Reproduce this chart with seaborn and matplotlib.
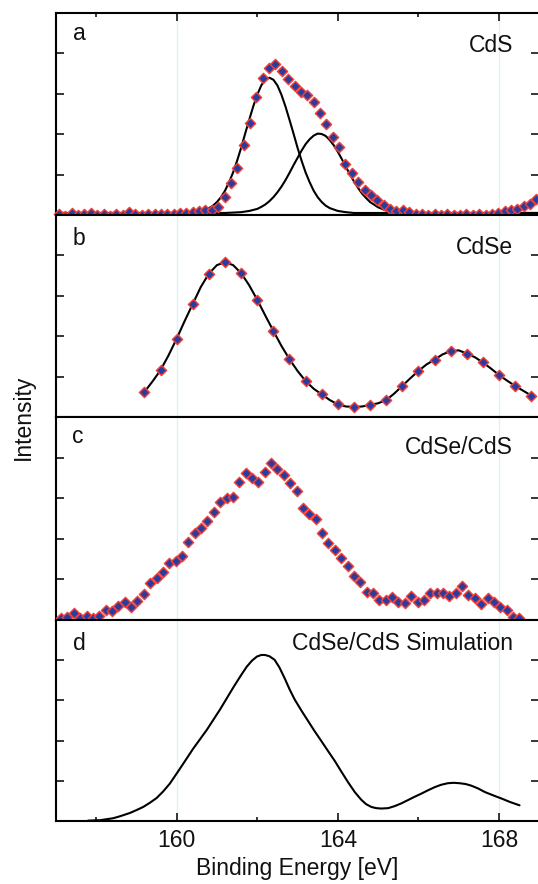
import numpy as np
import matplotlib
matplotlib.use("Agg")
import matplotlib.pyplot as plt
import seaborn as sns

sns.set_theme(style="ticks")
plt.rcParams["font.family"] = ["Liberation Sans", "DejaVu Sans"]
plt.rcParams["xtick.direction"] = "in"
plt.rcParams["ytick.direction"] = "in"

# ---------------- data ----------------
# (a) CdS: measured S 2p region (scan start / step in eV) and two fitted components
cds_start, cds_step = 157.08, 0.158
cds_intensity = [
    0.03, -0.03, 0.05, 0.00, 0.03, 0.05, 0.00, 0.03, -0.03, 0.03,
    0.00, 0.07, 0.03, 0.00, 0.03, 0.03, 0.03, 0.03, 0.03, 0.05,
    0.05, 0.07, 0.11, 0.12, 0.13, 0.20, 0.44, 0.78, 1.15, 1.72,
    2.27, 2.92, 3.39, 3.64, 3.74, 3.56, 3.37, 3.18, 3.04, 2.96,
    2.79, 2.52, 2.24, 1.93, 1.68, 1.27, 1.04, 0.81, 0.61, 0.49,
    0.36, 0.24, 0.16, 0.10, 0.13, 0.07, 0.03, 0.03, -0.01, 0.03,
    -0.01, 0.03, 0.01, -0.01, 0.03, -0.01, 0.03, -0.01, 0.03, 0.05,
    0.10, 0.13, 0.16, 0.21, 0.28, 0.40,
]
cds_fit1_energy = [157.0, 160.2, 160.4, 160.6, 160.8, 160.9, 161.0, 161.1, 161.2, 161.3,
                   161.4, 161.5, 161.6, 161.7, 161.8, 161.9, 162.0, 162.1, 162.2, 162.3,
                   162.4, 162.5, 162.6, 162.7, 162.8, 162.9, 163.0, 163.1, 163.2, 163.3,
                   163.4, 163.5, 163.6, 163.7, 163.8, 164.0, 164.2, 164.4, 169.0]
cds_fit1 = [0.05, 0.05, 0.07, 0.10, 0.17, 0.23, 0.32, 0.44, 0.60, 0.81,
            1.05, 1.34, 1.66, 2.01, 2.35, 2.68, 2.97, 3.20, 3.34, 3.39,
            3.34, 3.20, 2.97, 2.68, 2.35, 2.01, 1.66, 1.34, 1.05, 0.81,
            0.60, 0.44, 0.32, 0.23, 0.17, 0.10, 0.07, 0.05, 0.05]
cds_fit2_energy = [157.0, 161.2, 161.4, 161.6, 161.8, 162.0, 162.1, 162.2, 162.3, 162.4,
                   162.5, 162.6, 162.7, 162.8, 162.9, 163.0, 163.1, 163.2, 163.3, 163.4,
                   163.5, 163.6, 163.7, 163.8, 163.9, 164.0, 164.1, 164.2, 164.3, 164.4,
                   164.5, 164.6, 164.7, 164.8, 165.0, 165.2, 165.4, 165.6, 165.8, 169.0]
cds_fit2 = [0.05, 0.05, 0.06, 0.07, 0.10, 0.15, 0.20, 0.26, 0.34, 0.44,
            0.56, 0.70, 0.86, 1.04, 1.23, 1.41, 1.59, 1.75, 1.87, 1.96,
            2.01, 2.00, 1.95, 1.85, 1.72, 1.56, 1.38, 1.19, 1.00, 0.83,
            0.67, 0.53, 0.42, 0.32, 0.19, 0.11, 0.08, 0.06, 0.05, 0.05]

# (b) CdSe: measured points and fitted envelope
cdse_energy = [159.2, 159.6, 160.0, 160.4, 160.8, 161.2, 161.6, 162.0, 162.4, 162.8,
               163.2, 163.6, 164.0, 164.4, 164.8, 165.2, 165.6, 166.0, 166.4, 166.8,
               167.2, 167.6, 168.0, 168.4, 168.8]
cdse_intensity = [0.62, 1.16, 1.94, 2.80, 3.55, 3.83, 3.56, 2.90, 2.13, 1.43,
                  0.89, 0.56, 0.31, 0.25, 0.30, 0.42, 0.77, 1.14, 1.42, 1.63,
                  1.57, 1.35, 1.04, 0.77, 0.53]
cdse_fit_energy = [159.2, 159.4, 159.6, 159.8, 160.0, 160.2, 160.4, 160.6, 160.8, 161.0,
                   161.2, 161.4, 161.6, 161.8, 162.0, 162.2, 162.4, 162.6, 162.8, 163.0,
                   163.2, 163.4, 163.6, 163.8, 164.0, 164.2, 164.4, 164.6, 164.8, 165.0,
                   165.2, 165.4, 165.6, 165.8, 166.0, 166.2, 166.4, 166.6, 166.8, 167.0,
                   167.2, 167.4, 167.6, 167.8, 168.0, 168.2, 168.4, 168.6, 168.8]
cdse_fit = [0.62, 0.88, 1.16, 1.53, 1.94, 2.38, 2.80, 3.22, 3.55, 3.76,
            3.83, 3.76, 3.56, 3.26, 2.90, 2.51, 2.13, 1.76, 1.43, 1.14,
            0.89, 0.70, 0.56, 0.42, 0.31, 0.26, 0.25, 0.26, 0.30, 0.34,
            0.42, 0.58, 0.77, 0.96, 1.14, 1.30, 1.42, 1.55, 1.63, 1.65,
            1.57, 1.48, 1.35, 1.20, 1.04, 0.90, 0.77, 0.65, 0.53]

# (c) CdSe/CdS core/shell: measured points
core_start, core_step = 157.13, 0.158
core_intensity = [
    0.04, 0.08, 0.17, 0.04, 0.10, 0.04, 0.10, 0.25, 0.23, 0.35,
    0.44, 0.31, 0.48, 0.63, 0.90, 1.03, 1.17, 1.41, 1.46, 1.58,
    1.91, 2.14, 2.27, 2.44, 2.67, 2.91, 3.00, 3.04, 3.39, 3.61,
    3.49, 3.41, 3.65, 3.86, 3.71, 3.57, 3.38, 3.18, 2.75, 2.61,
    2.50, 2.15, 1.89, 1.72, 1.52, 1.33, 1.08, 0.94, 0.70, 0.66,
    0.49, 0.49, 0.56, 0.45, 0.41, 0.60, 0.44, 0.49, 0.67, 0.66,
    0.66, 0.59, 0.67, 0.84, 0.62, 0.53, 0.39, 0.53, 0.45, 0.33,
    0.25, 0.07, 0.04,
]

# (d) simulated CdSe/CdS spectrum
sim_energy = [157.80, 158.10, 158.43, 158.60, 158.84, 159.00, 159.17, 159.33, 159.50, 159.66,
              159.83, 160.08, 160.41, 160.75, 161.08, 161.41, 161.60, 161.74, 161.87, 161.99,
              162.10, 162.19, 162.30, 162.43, 162.55, 162.68, 162.80, 162.93, 163.10, 163.26,
              163.42, 163.59, 163.75, 163.92, 164.08, 164.25, 164.42, 164.58, 164.70, 164.83,
              164.95, 165.08, 165.25, 165.41, 165.58, 165.74, 165.90, 166.07, 166.23, 166.40,
              166.56, 166.73, 166.88, 167.02, 167.17, 167.31, 167.48, 167.65, 167.85, 168.06,
              168.28, 168.51]
sim_intensity = [0.01, 0.02, 0.07, 0.12, 0.20, 0.27, 0.35, 0.45, 0.57, 0.73,
                 0.93, 1.30, 1.80, 2.27, 2.78, 3.33, 3.63, 3.84, 3.99, 4.09,
                 4.13, 4.13, 4.10, 4.01, 3.82, 3.55, 3.28, 3.02, 2.74, 2.49,
                 2.24, 1.99, 1.75, 1.50, 1.24, 0.97, 0.72, 0.53, 0.42, 0.35,
                 0.32, 0.31, 0.32, 0.37, 0.44, 0.52, 0.60, 0.68, 0.76, 0.84,
                 0.90, 0.94, 0.95, 0.94, 0.92, 0.88, 0.81, 0.72, 0.64, 0.56,
                 0.47, 0.39]

panel_letters = ["a", "b", "c", "d"]
panel_names = ["CdS", "CdSe", "CdSe/CdS", "CdSe/CdS Simulation"]

# ---------------- layout (pixel geometry) ----------------
W, H = 538, 884
FS = 16.5
fig = plt.figure(figsize=(W / 100, H / 100), dpi=100)
left_px, right_px = 55.8, 539.3
bounds = [(12.5, 215), (215, 417), (417, 620), (620, 821)]
axes = []
for top, bot in bounds:
    ax = fig.add_axes([left_px / W, 1 - bot / H, (right_px - left_px) / W, (bot - top) / H])
    axes.append(ax)

def fx(px):
    return px / W

def fy(py):
    return 1 - py / H

BLUE = "#2c3c9e"
RED = "#f0403a"

def points(ax, x, y):
    sns.scatterplot(x=x, y=y, ax=ax, marker="D", s=27, color=BLUE,
                    edgecolor=RED, linewidth=1.05, clip_on=False, zorder=4, legend=False)

def curve(ax, x, y):
    sns.lineplot(x=x, y=y, ax=ax, color="black", linewidth=1.5, sort=False,
                 estimator=None, zorder=3, legend=False)

cds_energy = cds_start + cds_step * np.arange(len(cds_intensity))
core_energy = core_start + core_step * np.arange(len(core_intensity))

curve(axes[0], cds_fit1_energy, cds_fit1)
curve(axes[0], cds_fit2_energy, cds_fit2)
points(axes[0], cds_energy, cds_intensity)

curve(axes[1], cdse_fit_energy, cdse_fit)
points(axes[1], cdse_energy, cdse_intensity)

points(axes[2], core_energy, core_intensity)

curve(axes[3], sim_energy, sim_intensity)

for i, ax in enumerate(axes):
    ax.set_xlim(157, 169)
    ax.set_ylim(0, 5)
    ax.set_xlabel("")
    ax.set_ylabel("")
    for s in ax.spines.values():
        s.set_visible(True)
        s.set_linewidth(1.5)
        s.set_color("black")
    for e in (160, 168):
        ax.axvline(e, color="#dcf2f7", linewidth=1.0, zorder=0)
    ax.set_yticks([1, 2, 3, 4])
    ax.set_yticklabels([])
    ax.tick_params(axis="y", which="major", left=True, right=True, length=5.8,
                   width=1.1, direction="in", color="black")
    ax.set_xticks([160, 164, 168])
    ax.set_xticks([158, 162, 166], minor=True)
    ax.tick_params(axis="x", which="major", length=5.8, width=1.1, direction="in", color="black")
    ax.tick_params(axis="x", which="minor", length=3.0, width=1.1, direction="in", color="black")
    ax.tick_params(axis="x", which="both", top=(i == 0), bottom=(i == 3),
                   labeltop=False, labelbottom=(i == 3))

axes[3].tick_params(axis="x", which="major", labelsize=FS, pad=5.5, labelcolor="#111111")
axes[3].set_xticklabels(["160", "164", "168"])
axes[3].set_xlabel("Binding Energy [eV]", fontsize=FS, labelpad=4, color="#111111")

fig.text(fx(23), fy(417), "Intensity", rotation=90, ha="center", va="center",
         fontsize=FS, color="#111111")

letter_pos = [(72.7, 40), (72.7, 245), (72.0, 442.7), (72.7, 650)]
name_pos = [(513, 52), (513, 254), (513, 454.5), (513, 649.7)]
for (lx, ly), (nx, ny), letter, name in zip(letter_pos, name_pos, panel_letters, panel_names):
    fig.text(fx(lx), fy(ly), letter, ha="left", va="baseline", fontsize=FS, color="#111111")
    fig.text(fx(nx), fy(ny), name, ha="right", va="baseline", fontsize=FS, color="#111111")

fig.savefig("out.png", dpi=100)
